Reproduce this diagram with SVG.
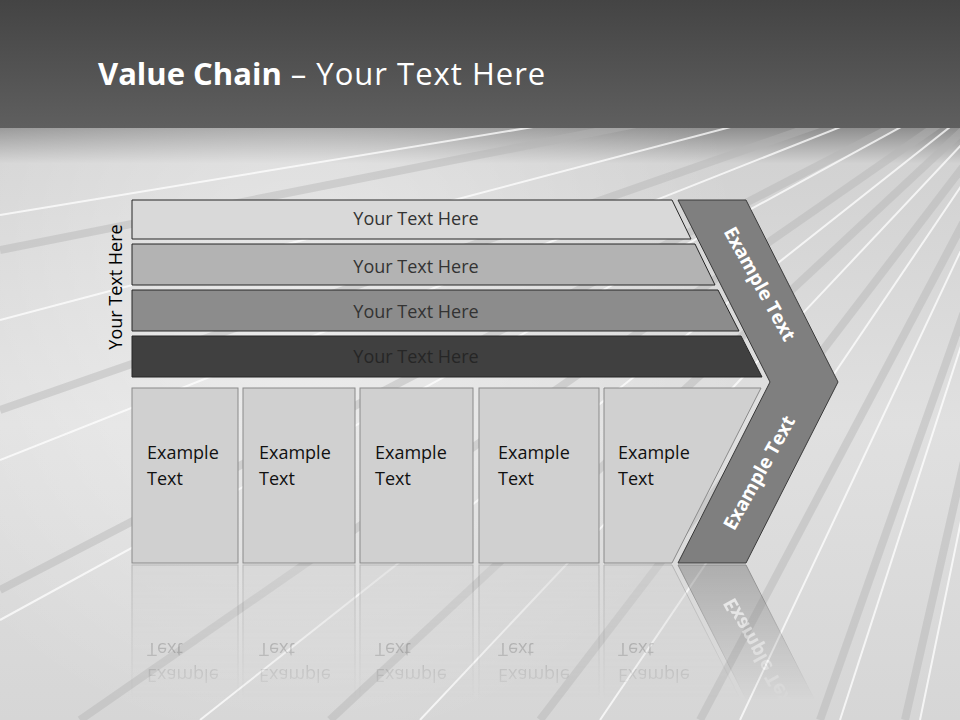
<svg xmlns="http://www.w3.org/2000/svg" width="960" height="720" viewBox="0 0 960 720">
<defs>
<linearGradient id="hdr" x1="0" y1="0" x2="0" y2="1">
<stop offset="0" stop-color="#444"/><stop offset="1" stop-color="#5f5f5f"/>
</linearGradient>
<linearGradient id="floor" x1="0" y1="128" x2="0" y2="720" gradientUnits="userSpaceOnUse">
<stop offset="0" stop-color="#8f8f8f"/><stop offset="0.06" stop-color="#d2d2d2"/><stop offset="0.5" stop-color="#e0e0e0"/><stop offset="1" stop-color="#d6d6d6"/>
</linearGradient>
<radialGradient id="glow" cx="300" cy="300" r="450" gradientUnits="userSpaceOnUse">
<stop offset="0" stop-color="#fff" stop-opacity="0.45"/><stop offset="1" stop-color="#fff" stop-opacity="0"/>
</radialGradient>
<linearGradient id="fade" x1="0" y1="563" x2="0" y2="700" gradientUnits="userSpaceOnUse">
<stop offset="0" stop-color="#fff" stop-opacity="0.5"/><stop offset="1" stop-color="#fff" stop-opacity="0"/>
</linearGradient>
<mask id="refl" maskUnits="userSpaceOnUse" x="0" y="563" width="960" height="157">
<rect x="0" y="563" width="960" height="157" fill="url(#fade)"/>
</mask>
<clipPath id="fl"><rect x="0" y="128" width="960" height="592"/></clipPath>
<style>
.bar{stroke:#262626;stroke-width:1}
.bt{font-family:"Open Sans","DejaVu Sans",sans-serif;font-size:18px;fill:#333;text-anchor:middle}
.box{fill:#d0d0d0;stroke:#8a8a8a;stroke-width:1}
.ex{font-family:"Open Sans","DejaVu Sans",sans-serif;font-size:18px;fill:#111}
.ct{font-family:"Open Sans","DejaVu Sans",sans-serif;font-size:19px;font-weight:bold;fill:#fff;text-anchor:middle}
.wl{stroke:#fff;stroke-width:2;opacity:0.75}
.gl{stroke:#b5b5b5;stroke-width:8;opacity:0.45}
</style>
</defs>
<g id="background">
<rect x="0" y="0" width="960" height="128" fill="url(#hdr)"/>
<rect x="0" y="128" width="960" height="592" fill="url(#floor)"/>
<rect x="0" y="128" width="960" height="592" fill="url(#glow)"/>
<g clip-path="url(#fl)">
<g class="gl">
<line x1="1060" y1="40" x2="0" y2="250"/><line x1="1060" y1="40" x2="0" y2="410"/><line x1="1060" y1="40" x2="0" y2="590"/>
<line x1="1060" y1="40" x2="80" y2="720"/><line x1="1060" y1="40" x2="330" y2="720"/><line x1="1060" y1="40" x2="540" y2="720"/>
<line x1="1060" y1="40" x2="700" y2="720"/><line x1="1060" y1="40" x2="820" y2="720"/><line x1="1060" y1="40" x2="905" y2="720"/>
</g>
<g class="wl">
<line x1="1060" y1="40" x2="0" y2="215"/><line x1="1060" y1="40" x2="0" y2="320"/>
<line x1="1060" y1="40" x2="0" y2="460"/><line x1="1060" y1="40" x2="0" y2="620"/>
<line x1="1060" y1="40" x2="200" y2="720"/><line x1="1060" y1="40" x2="420" y2="720"/>
<line x1="1060" y1="40" x2="600" y2="720"/><line x1="1060" y1="40" x2="740" y2="720"/>
<line x1="1060" y1="40" x2="840" y2="720"/><line x1="1060" y1="40" x2="920" y2="720"/>
</g>
</g>
</g>
<text id="title" x="98" y="85" font-family="'Open Sans','DejaVu Sans',sans-serif" font-size="31" fill="#fff"><tspan font-weight="bold">Value Chain</tspan><tspan letter-spacing="1"> – Your Text Here</tspan></text>
<text id="side-label" transform="translate(122,287) rotate(-90)" font-family="'Open Sans','DejaVu Sans',sans-serif" font-size="18" fill="#000" text-anchor="middle">Your Text Here</text>
<g id="bar1"><polygon class="bar" points="132,200 672,200 691,239 132,239" fill="#d9d9d9"/><text class="bt" x="416" y="225">Your Text Here</text></g>
<g id="bar2"><polygon class="bar" points="132,244 695,244 715,285 132,285" fill="#b3b3b3"/><text class="bt" x="416" y="273">Your Text Here</text></g>
<g id="bar3"><polygon class="bar" points="132,290 718,290 739,331 132,331" fill="#8c8c8c"/><text class="bt" x="416" y="318">Your Text Here</text></g>
<g id="bar4"><polygon class="bar" points="132,336 741,336 762,377 132,377" fill="#404040"/><text class="bt" x="416" y="363" style="fill:#262626">Your Text Here</text></g>
<g id="content">
<g id="chevron"><polygon points="678,200 746,200 838,382 746,563 678,563 770,382" fill="#7f7f7f" stroke="#3a3a3a" stroke-width="1"/>
<text class="ct" transform="translate(754,287) rotate(61)">Example Text</text>
<text class="ct" transform="translate(765,476) rotate(-61)">Example Text</text></g>
<g id="box1"><rect class="box" x="132" y="388" width="106" height="175"/><text class="ex" x="147" y="459">Example</text><text class="ex" x="147" y="485">Text</text></g>
<g id="box2"><rect class="box" x="243" y="388" width="112" height="175"/><text class="ex" x="259" y="459">Example</text><text class="ex" x="259" y="485">Text</text></g>
<g id="box3"><rect class="box" x="360" y="388" width="113" height="175"/><text class="ex" x="375" y="459">Example</text><text class="ex" x="375" y="485">Text</text></g>
<g id="box4"><rect class="box" x="479" y="388" width="120" height="175"/><text class="ex" x="498" y="459">Example</text><text class="ex" x="498" y="485">Text</text></g>
<g id="box5"><polygon class="box" points="604,388 761,388 672,563 604,563"/><text class="ex" x="618" y="459">Example</text><text class="ex" x="618" y="485">Text</text></g>
</g>
<g id="reflection" mask="url(#refl)">
<g transform="translate(0,1128) scale(1,-1)">
<use href="#box1"/><use href="#box2"/><use href="#box3"/><use href="#box4"/><use href="#box5"/><use href="#chevron"/>
</g>
</g>
</svg>
